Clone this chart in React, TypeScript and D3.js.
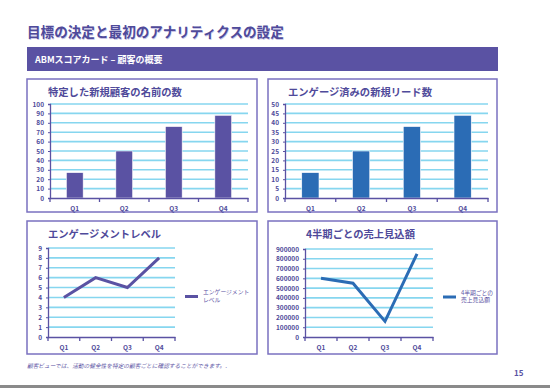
import React, { useEffect, useRef } from "react";
import * as d3 from "d3";

const quarters = ["Q1", "Q2", "Q3", "Q4"];
const namedCustomers = [27, 50, 76, 88];
const engagedLeads = [13.5, 25, 38, 44];
const engagementLevel = [4, 6, 5, 8];
const forecast = [600000, 550000, 160000, 850000];

const purple = "#5a52a3";
const blue = "#2b6cb5";
const grid = "#86d6ef";
const font = "'Noto Sans CJK JP', 'Noto Sans', sans-serif";

type Panel = {
  x: number; y: number; w: number; h: number;
  title: string; titleX: number;
  ax: number; ay0: number; ay1: number; ax1: number;
  max: number; step: number;
  values: number[]; color: string; kind: "bar" | "line";
  legend?: string[];
};

const panels: Panel[] = [
  { x: 27, y: 79, w: 230, h: 133, title: "特定した新規顧客の名前の数", titleX: 48,
    ax: 50, ax1: 248, ay0: 198, ay1: 104, max: 100, step: 10, values: namedCustomers, color: purple, kind: "bar" },
  { x: 268, y: 79, w: 229, h: 133, title: "エンゲージ済みの新規リード数", titleX: 288,
    ax: 285, ax1: 488, ay0: 198, ay1: 104, max: 50, step: 5, values: engagedLeads, color: blue, kind: "bar" },
  { x: 27, y: 221, w: 230, h: 133, title: "エンゲージメントレベル", titleX: 48,
    ax: 48, ax1: 175, ay0: 337, ay1: 248, max: 9, step: 1, values: engagementLevel, color: purple, kind: "line",
    legend: ["エンゲージメント", "レベル"] },
  { x: 268, y: 221, w: 229, h: 133, title: "4半期ごとの売上見込額", titleX: 306,
    ax: 305, ax1: 433, ay0: 337, ay1: 249, max: 900000, step: 100000, values: forecast, color: blue, kind: "line",
    legend: ["4半期ごとの", "売上見込額"] },
];

function drawPanel(svg: d3.Selection<SVGSVGElement, unknown, null, undefined>, p: Panel) {
  svg.append("rect")
    .attr("x", p.x).attr("y", p.y).attr("width", p.w).attr("height", p.h)
    .attr("fill", "#fff").attr("stroke", "#7a70c0").attr("stroke-width", 1.5);

  svg.append("text")
    .attr("x", p.titleX).attr("y", p.y + 17)
    .attr("font-size", 10.3).attr("font-weight", 700).attr("fill", "#4f4a9a")
    .text(p.title);

  const x = d3.scaleBand().domain(quarters).range([p.ax, p.ax1]);
  const y = d3.scaleLinear().domain([0, p.max]).range([p.ay0, p.ay1]);
  const ticks = d3.range(0, p.max + p.step / 2, p.step);

  const g = svg.append("g");
  g.selectAll("line.grid").data(ticks.slice(1)).enter().append("line")
    .attr("x1", p.ax).attr("x2", p.ax1)
    .attr("y1", d => y(d)).attr("y2", d => y(d))
    .attr("stroke", grid).attr("stroke-width", 1.6);

  if (p.kind === "bar") {
    g.selectAll("rect.bar").data(p.values).enter().append("rect")
      .attr("x", (_, i) => x(quarters[i])! + x.bandwidth() * 0.33)
      .attr("width", x.bandwidth() * 0.34)
      .attr("y", d => y(d)).attr("height", d => p.ay0 - y(d))
      .attr("fill", p.color).attr("stroke", "#fff").attr("stroke-width", 0.6);
  } else {
    const line = d3.line<number>()
      .x((_, i) => x(quarters[i])! + x.bandwidth() / 2)
      .y(d => y(d));
    g.append("path").datum(p.values)
      .attr("d", line).attr("fill", "none")
      .attr("stroke", p.color).attr("stroke-width", 3).attr("stroke-linejoin", "miter");
  }

  // y axis
  const ya = g.append("g").attr("transform", `translate(${p.ax},0)`)
    .call(d3.axisLeft(y).tickValues(ticks).tickSize(2).tickPadding(4).tickFormat(d3.format("d")));
  ya.select(".domain").attr("stroke", purple).attr("stroke-width", 1.3);
  ya.selectAll(".tick line").attr("stroke", purple);
  ya.selectAll(".tick text").attr("fill", "#4f4a9a").attr("font-size", 6.5)
    .attr("font-weight", 700).attr("font-family", font);

  // x axis
  const xa = g.append("g").attr("transform", `translate(0,${p.ay0})`)
    .call(d3.axisBottom(x).tickSize(0).tickPadding(8));
  xa.select(".domain").attr("stroke", purple).attr("stroke-width", 1.3);
  xa.selectAll(".tick text").attr("fill", "#4f4a9a").attr("font-size", 6.5)
    .attr("font-weight", 700).attr("font-family", font);
  g.selectAll("line.xt").data(quarters.concat("end")).enter().append("line")
    .attr("x1", (d, i) => (i < 4 ? x(d)! : p.ax1)).attr("x2", (d, i) => (i < 4 ? x(d)! : p.ax1))
    .attr("y1", p.ay0).attr("y2", p.ay0 + 4)
    .attr("stroke", purple).attr("stroke-width", 1.3);

  if (p.legend) {
    const lx = p.ax1 + 10;
    const ly = (p.ay0 + p.ay1) / 2 + 4;
    g.append("line").attr("x1", lx).attr("x2", lx + 13).attr("y1", ly).attr("y2", ly)
      .attr("stroke", p.color).attr("stroke-width", 3);
    p.legend.forEach((t, i) => {
      g.append("text").attr("x", lx + 18).attr("y", ly - 2.5 + i * 7.5)
        .attr("font-size", 5.8).attr("fill", purple).text(t);
    });
  }
}

export default function App() {
  const ref = useRef<SVGSVGElement>(null);

  useEffect(() => {
    const svg = d3.select(ref.current!);
    svg.selectAll("*").remove();
    svg.attr("font-family", font);

    svg.append("rect").attr("width", 550).attr("height", 388).attr("fill", "#fff");

    svg.append("text").attr("x", 27.5).attr("y", 37.5)
      .attr("font-size", 13.6).attr("font-weight", 700).attr("fill", "#c9c6e6")
      .text("目標の決定と最初のアナリティクスの設定");
    svg.append("text").attr("x", 27).attr("y", 37)
      .attr("font-size", 13.6).attr("font-weight", 700).attr("fill", "#4f4a9a")
      .text("目標の決定と最初のアナリティクスの設定");

    svg.append("rect").attr("x", 27).attr("y", 47).attr("width", 471).attr("height", 24)
      .attr("fill", purple);
    svg.append("text").attr("x", 35).attr("y", 63)
      .attr("font-size", 9).attr("font-weight", 700).attr("fill", "#fff")
      .text("ABMスコアカード – 顧客の概要");

    panels.forEach(p => drawPanel(svg, p));

    svg.append("text").attr("x", 27).attr("y", 368)
      .attr("font-size", 5.7).attr("font-style", "italic").attr("fill", purple)
      .text("顧客ビューでは、活動の健全性を特定の顧客ごとに確認することができます。.");
    svg.append("text").attr("x", 514).attr("y", 376)
      .attr("font-size", 8).attr("font-weight", 700).attr("fill", purple)
      .text("15");
    svg.append("rect").attr("x", 0).attr("y", 385).attr("width", 550).attr("height", 3)
      .attr("fill", "#8a8a8a");
  }, []);

  return (
    <svg ref={ref} width={550} height={388}
      style={{ position: "absolute", left: 0, top: 0, display: "block" }} />
  );
}
